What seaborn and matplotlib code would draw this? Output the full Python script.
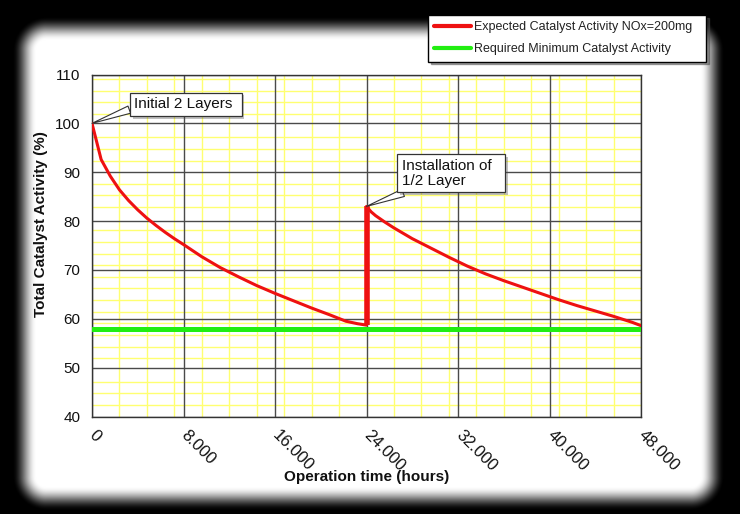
import numpy as np
import pandas as pd
import matplotlib
matplotlib.use("Agg")
import matplotlib.pyplot as plt
from matplotlib import patheffects as pe
from matplotlib.ticker import FuncFormatter
import seaborn as sns

# ---------------- data ----------------
hours_first = [0, 800, 1600, 2400, 3200, 4000, 4800, 5600, 6400, 7200, 8000,
               9600, 11200, 12800, 14400, 16000, 17600, 19200, 20800, 22200,
               23200, 24000]
activity_first = [100, 92.6, 89.2, 86.4, 84.2, 82.3, 80.6, 79.1, 77.7, 76.4, 75.2,
                  72.7, 70.5, 68.6, 66.8, 65.2, 63.7, 62.2, 60.8, 59.5,
                  59.0, 58.7]
hours_second = [24000, 24400, 24800, 25600, 26400, 27200, 28000, 29600, 31200,
                32800, 34400, 36000, 37600, 39200, 40800, 42400, 44000, 45600,
                47200, 48000]
activity_second = [83.0, 81.9, 81.1, 79.8, 78.6, 77.5, 76.4, 74.5, 72.6,
                   70.8, 69.2, 67.8, 66.5, 65.2, 63.9, 62.7, 61.6, 60.5,
                   59.3, 58.6]
required_hours = [0, 48000]
required_activity = [58, 58]

x_ticks = [0, 8000, 16000, 24000, 32000, 40000, 48000]
y_ticks = [40, 50, 60, 70, 80, 90, 100, 110]

series_labels = ["Expected Catalyst Activity NOx=200mg",
                 "Required Minimum Catalyst Activity"]
note_initial = "Initial 2 Layers"
note_install = "Installation of\n1/2 Layer"

# ---------------- style ----------------
sns.set_style("white")
plt.rcParams["font.family"] = ["Liberation Sans", "DejaVu Sans"]

W, H, DPI = 740, 514, 100
fig = plt.figure(figsize=(W / DPI, H / DPI), dpi=DPI, facecolor="black")

# soft white rounded panel on black (frame/vignette)
yy, xx = np.mgrid[0:H, 0:W].astype(float)
x0, x1, y0, y1, r = 24, 712, 28, 498, 22
cx = np.clip(xx, x0 + r, x1 - r)
cy = np.clip(yy, y0 + r, y1 - r)
d = np.hypot(xx - cx, yy - cy) - r
t = np.clip((d + 12) / 24, 0, 1)
val = 1 - (t * t * (3 - 2 * t))
img = np.dstack([val, val, val])
fig.figimage(img, xo=0, yo=0, origin="upper", zorder=0)

ax = fig.add_axes([92 / W, 1 - 416.5 / H, 549 / W, 342 / H])
ax.set_facecolor("white")
ax.set_zorder(2)

red = "#ee1111"
green = "#22ee11"

df1 = pd.DataFrame({"hours": hours_first, "activity": activity_first})
df2 = pd.DataFrame({"hours": hours_second, "activity": activity_second})
dfr = pd.DataFrame({"hours": required_hours, "activity": required_activity})

sns.lineplot(data=dfr, x="hours", y="activity", ax=ax, color=green, lw=3.6,
             estimator=None, sort=False, zorder=4, label=series_labels[1])
sns.lineplot(data=df1, x="hours", y="activity", ax=ax, color=red, lw=2.2,
             estimator=None, sort=False, zorder=5, label=series_labels[0])
sns.lineplot(data=df2, x="hours", y="activity", ax=ax, color=red, lw=2.2,
             estimator=None, sort=False, zorder=5)
# the vertical jump at re-installation (drawn thicker in the reference)
ax.plot([hours_first[-1], hours_second[0]], [activity_first[-1], activity_second[0]],
        color=red, lw=4.0, zorder=5, solid_capstyle="butt")

ax.set_xlim(0, 48000)
ax.set_ylim(40, 110)

# grids: yellow minor, dark major
minor_x = [v for v in np.arange(0, 48001, 2400) if v % 8000 != 0]
minor_y = [v for v in (90 + 2.38 * np.arange(-20, 9)) if abs(v - round(v / 10) * 10) > 0.6]
for v in minor_x:
    ax.axvline(v, color="#ffff70", lw=1.0, zorder=1)
for v in minor_y:
    ax.axhline(v, color="#ffff70", lw=1.0, zorder=1)
for v in x_ticks:
    ax.axvline(v, color="#4a4a4a", lw=1.0, zorder=2)
for v in y_ticks:
    ax.axhline(v, color="#4a4a4a", lw=1.0, zorder=2)

ax.set_xticks(x_ticks)
ax.set_yticks(y_ticks)
ax.xaxis.set_major_formatter(FuncFormatter(lambda v, p: f"{int(v):,}".replace(",", ".")))
ax.tick_params(axis="both", which="major", direction="out", length=4, width=1,
               color="#333333", labelcolor="#111111")
ax.tick_params(axis="y", labelsize=11, pad=4.5)
ax.tick_params(axis="x", labelsize=12, pad=8)
for lab in ax.get_xticklabels():
    lab.set_rotation(-45)
    lab.set_ha("left")
    lab.set_va("center")
    lab.set_rotation_mode("anchor")

for s in ax.spines.values():
    s.set_visible(True)
    s.set_color("#333333")
    s.set_linewidth(1.0)

ax.set_xlabel("Operation time (hours)", fontsize=11, fontweight="bold",
              color="#111111")
ax.set_ylabel("Total Catalyst Activity (%)", fontsize=11, fontweight="bold",
              color="#111111")
ax.xaxis.set_label_coords(0.5, -0.155)
ax.yaxis.set_label_coords(-0.08, 0.563)

# legend
handles, labels = ax.get_legend_handles_labels()
order = [labels.index(series_labels[0]), labels.index(series_labels[1])]
if ax.get_legend() is not None:
    ax.get_legend().remove()
leg = fig.legend([handles[i] for i in order], [labels[i] for i in order],
                 loc="upper left", bbox_to_anchor=(428 / W, 1 - 60 / H, 278 / W, 45 / H),
                 bbox_transform=fig.transFigure, mode="expand",
                 fontsize=9, frameon=True, fancybox=False, shadow=True,
                 handlelength=2.9, handletextpad=0.3, borderpad=0.5,
                 labelspacing=0.8, borderaxespad=0)
leg.get_frame().set_edgecolor("black")
leg.get_frame().set_linewidth(1.0)
for txt in leg.get_texts():
    txt.set_color("#222222")
for ln in leg.get_lines():
    ln.set_linewidth(3.0)

# callouts
box = dict(boxstyle="square,pad=0.3", fc="white", ec="#333333", lw=0.9)
a1 = ax.annotate(note_initial + " ", xy=(hours_first[0], activity_first[0]),
                 xytext=(3700, 103.9), textcoords="data", fontsize=11,
                 color="#111111", ha="left", va="center", bbox=box, zorder=8,
                 arrowprops=dict(arrowstyle="wedge,tail_width=0.5", fc="white",
                                 ec="#333333", lw=0.8, relpos=(0.0, 0.25),
                                 shrinkA=0, shrinkB=0))
a2 = ax.annotate("Installation of  \n1/2 Layer", xy=(hours_second[0], activity_second[0]),
                 xytext=(27100, 86.8), textcoords="data", fontsize=11,
                 color="#111111", ha="left", va="bottom", bbox=box, zorder=8,
                 linespacing=1.1,
                 arrowprops=dict(arrowstyle="wedge,tail_width=0.5", fc="white",
                                 ec="#333333", lw=0.8, relpos=(0.15, 0.0),
                                 shrinkA=0, shrinkB=0))
for a in (a1, a2):
    a.get_bbox_patch().set_path_effects([pe.withSimplePatchShadow(offset=(2, -2), alpha=0.35)])

fig.savefig("out.png", dpi=DPI, facecolor="black")
